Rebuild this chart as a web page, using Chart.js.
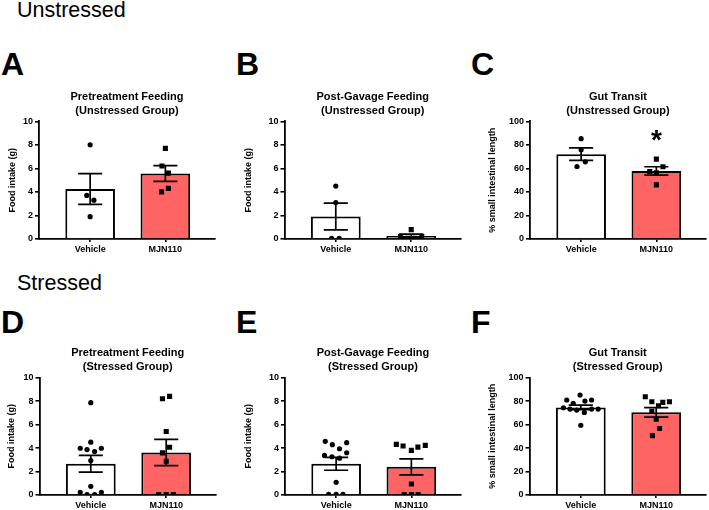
<!DOCTYPE html>
<html>
<head>
<meta charset="utf-8">
<script src="https://cdn.jsdelivr.net/npm/chart.js@4.4.0/dist/chart.umd.min.js"></script>
<style>
  body { margin: 0; background: #fff; }
  #fig { position: relative; width: 709px; height: 510px; overflow: hidden; font-family: "Liberation Sans", Arial, sans-serif; color: #000; }
  .head { position: absolute; font-size: 21.5px; line-height: 1; }
  .letter { position: absolute; font-size: 32px; font-weight: bold; line-height: 1; }
  canvas { position: absolute; }
</style>
</head>
<body>
<div id="fig">
  <div class="head" style="left:17px; top:0px;">Unstressed</div>
  <div class="head" style="left:17px; top:273px;">Stressed</div>
  <div class="letter" style="left:1px; top:48px;">A</div>
  <div class="letter" style="left:236px; top:48px;">B</div>
  <div class="letter" style="left:471px; top:48px;">C</div>
  <div class="letter" style="left:1px; top:306px;">D</div>
  <div class="letter" style="left:236px; top:306px;">E</div>
  <div class="letter" style="left:471px; top:306px;">F</div>
</div>
<script>
const groups = ['Vehicle', 'MJN110'];

// A - pretreatment feeding, unstressed
const preUnsMean = [4.25, 5.57];
const preUnsSem = [1.3, 0.67];
const preUnsVeh = [8.0, 3.7, 3.3, 1.9];
const preUnsVehJit = [0, -0.045, 0.05, 0];
const preUnsMjn = [7.7, 6.2, 5.6, 4.3, 4.0];
const preUnsMjnJit = [0, -0.045, 0.04, 0.04, -0.05];

// B - post-gavage feeding, unstressed
const postUnsMean = [1.91, 0.26];
const postUnsSem = [1.13, 0.15];
const postUnsVeh = [4.5, 3.1, 0.05, 0.05];
const postUnsVehJit = [0, 0, -0.055, 0.045];
const postUnsMjn = [0.8, 0.2, 0.05, 0.05, 0.2];
const postUnsMjnJit = [0, -0.14, -0.05, 0.05, 0.14];

// C - gut transit, unstressed
const gutUnsMean = [72.1, 57.8];
const gutUnsSem = [5.3, 3.6];
const gutUnsVeh = [85.2, 75.9, 61.6, 65.6];
const gutUnsVehJit = [0, 0, -0.055, 0.055];
const gutUnsMjn = [67.9, 61.4, 57.4, 56.3, 46.0];
const gutUnsMjnJit = [0, 0.088, -0.088, 0, 0];
const gutUnsStar = { x: 1, y: 90, text: '*' };

// D - pretreatment feeding, stressed
const preStrMean = [2.66, 3.62];
const preStrSem = [0.72, 1.12];
const preStrVeh = [7.86, 4.5, 3.98, 3.87, 3.7, 3.98, 2.93, 0.74, 0.22, 0.22, 0.03, 0.03];
const preStrVehJit = [0, 0, -0.14, -0.05, 0.05, 0.14, 0, 0, -0.14, 0.14, -0.05, 0.05];
const preStrMjn = [8.2, 8.4, 5.41, 4.07, 3.59, 2.88, 0.03, 0.03, 0.03];
const preStrMjnJit = [-0.05, 0.045, 0, 0.045, -0.05, 0, -0.1, 0, 0.095];

// E - post-gavage feeding, stressed
const postStrMean = [2.66, 2.4];
const postStrSem = [0.55, 0.68];
const postStrVeh = [4.57, 4.46, 4.29, 3.94, 3.6, 3.37, 3.26, 3.14, 1.08, 0.05, 0.05, 0.05];
const postStrVehJit = [-0.145, 0.14, -0.05, 0.045, 0.14, -0.155, -0.057, 0.045, 0, -0.1, 0, 0.09];
const postStrMjn = [4.31, 4.17, 3.8, 4.08, 4.23, 0.94, 0.03, 0.03, 0.03];
const postStrMjnJit = [-0.2, -0.11, 0, 0.087, 0.185, 0, -0.095, 0, 0.09];

// F - gut transit, stressed
const gutStrMean = [74.6, 70.4];
const gutStrSem = [1.9, 4.0];
const gutStrVeh = [85.2, 80.9, 80.0, 80.9, 78.0, 74.3, 73.2, 72.3, 70.3, 73.2, 73.2, 59.4];
const gutStrVehJit = [-0.01, -0.186, 0.055, 0.143, -0.1, -0.23, -0.143, -0.054, 0.047, 0.143, 0.23, 0];
const gutStrMjn = [83.7, 79.4, 76.0, 78.9, 79.4, 71.4, 64.6, 56.6, 50.6];
const gutStrMjnJit = [-0.145, -0.058, 0.03, 0.087, 0.175, -0.058, 0, 0.044, -0.05];

const FONT = '"Liberation Sans", Arial, sans-serif';

// mean +/- SEM whiskers, drawn right after the bars so the dots sit on top
const semBars = {
  id: 'semBars',
  afterDatasetDraw(chart, args, opts) {
    if (args.index !== 0) return;
    const { ctx, scales: { x, y } } = chart;
    ctx.save();
    ctx.strokeStyle = '#000';
    ctx.lineWidth = 1.7;
    opts.mean.forEach((m, i) => {
      const cx = x.getPixelForValue(i);
      const hw = x.getPixelForValue(i + 0.16) - cx;
      const top = y.getPixelForValue(m + opts.sem[i]);
      const bot = y.getPixelForValue(Math.max(0, m - opts.sem[i]));
      ctx.beginPath();
      ctx.moveTo(cx, top); ctx.lineTo(cx, bot);
      ctx.moveTo(cx - hw, top); ctx.lineTo(cx + hw, top);
      ctx.moveTo(cx - hw, bot); ctx.lineTo(cx + hw, bot);
      ctx.stroke();
    });
    ctx.restore();
  }
};

// two line panel title + optional significance star
const panelTitle = {
  id: 'panelTitle',
  afterDraw(chart, args, opts) {
    const { ctx, chartArea, scales: { x, y } } = chart;
    ctx.save();
    ctx.fillStyle = '#000';
    ctx.font = 'bold 11px ' + FONT;
    ctx.textAlign = 'center';
    ctx.textBaseline = 'middle';
    const cx = (chartArea.left + chartArea.right) / 2;
    opts.lines.forEach((t, i) => ctx.fillText(t, cx, chartArea.top - 24.5 + i * 14));
    if (opts.star) {
      ctx.font = 'bold 28px ' + FONT;
      ctx.textBaseline = 'alphabetic';
      ctx.fillText(opts.star.text, x.getPixelForValue(opts.star.x), y.getPixelForValue(opts.star.y) + 16);
    }
    ctx.restore();
  }
};

function points(vals, jit, i) {
  return vals.map((v, k) => ({ x: i + jit[k], y: v }));
}

function makePanel(p) {
  const canvasTop = Math.round(p.areaTop - 40);
  const padTop = p.areaTop - canvasTop;
  const canvasLeft = Math.round(p.titleX - 5.4);
  const yW = p.axisX - canvasLeft;
  const areaW = 177, padRight = 3, xH = 24;
  const cv = document.createElement('canvas');
  cv.width = Math.ceil(yW + areaW + padRight);
  cv.height = Math.ceil(padTop + p.areaH + xH);
  cv.style.left = canvasLeft + 'px';
  cv.style.top = canvasTop + 'px';
  document.getElementById('fig').appendChild(cv);
  const rightPad = cv.width - yW - areaW;

  new Chart(cv, {
    type: 'bar',
    data: {
      datasets: [
        {
          type: 'bar',
          data: p.mean.map((m, i) => ({ x: i, y: m })),
          backgroundColor: ['#ffffff', '#ff6464'],
          borderColor: '#000',
          borderWidth: 2,
          barPercentage: 0.66,
          categoryPercentage: 1,
          order: 2
        },
        {
          type: 'scatter',
          data: points(p.veh, p.vehJit, 0),
          pointStyle: 'circle',
          pointRadius: 2.6,
          backgroundColor: '#000',
          borderWidth: 0,
          order: 1
        },
        {
          type: 'scatter',
          data: points(p.mjn, p.mjnJit, 1),
          pointStyle: 'rect',
          pointRadius: 3.6,
          backgroundColor: '#000',
          borderWidth: 0,
          order: 1
        }
      ]
    },
    options: {
      responsive: false,
      animation: false,
      layout: { padding: { top: padTop, right: rightPad, left: 0, bottom: 0 } },
      scales: {
        x: {
          type: 'linear',
          bounds: 'data',
          offset: false,
          min: -0.68,
          max: 1.66,
          afterBuildTicks: (s) => { s.ticks = groups.map((g, i) => ({ value: i })); },
          afterFit: (s) => { s.height = xH; s.paddingLeft = 0; s.paddingRight = 0; },
          ticks: {
            callback: (v) => groups[v],
            autoSkip: false,
            maxRotation: 0,
            padding: 2,
            color: '#000',
            font: { family: FONT, size: 9, weight: 'bold' }
          },
          grid: { display: true, offset: false, drawOnChartArea: false, drawTicks: true, tickLength: 3, color: '#000', lineWidth: 1.6 },
          border: { display: true, color: '#000', width: 1.8 }
        },
        y: {
          min: 0,
          max: p.yMax,
          afterFit: (s) => { s.width = yW; s.paddingTop = 0; s.paddingBottom = 0; },
          ticks: {
            stepSize: p.yMax / 5,
            padding: 2,
            color: '#000',
            font: { family: FONT, size: 9, weight: 'bold' }
          },
          title: {
            display: true,
            text: p.yTitle,
            padding: 0,
            color: '#000',
            font: { family: FONT, size: 9, weight: 'bold' }
          },
          grid: { display: true, drawOnChartArea: false, drawTicks: true, tickLength: 4, color: '#000', lineWidth: 1.6 },
          border: { display: true, color: '#000', width: 1.8 }
        }
      },
      plugins: {
        legend: { display: false },
        tooltip: { enabled: false },
        semBars: { mean: p.mean, sem: p.sem },
        panelTitle: { lines: p.title, star: p.star }
      }
    },
    plugins: [semBars, panelTitle]
  });
}

const feedTitle = 'Food intake (g)';
const gutTitle = '% small intestinal length';

makePanel({ axisX: 39, areaTop: 121.3, areaH: 117.4, titleX: 12, yMax: 10, yTitle: feedTitle,
  title: ['Pretreatment Feeding', '(Unstressed Group)'], mean: preUnsMean, sem: preUnsSem,
  veh: preUnsVeh, vehJit: preUnsVehJit, mjn: preUnsMjn, mjnJit: preUnsMjnJit });
makePanel({ axisX: 284.5, areaTop: 121.3, areaH: 117.4, titleX: 248, yMax: 10, yTitle: feedTitle,
  title: ['Post-Gavage Feeding', '(Unstressed Group)'], mean: postUnsMean, sem: postUnsSem,
  veh: postUnsVeh, vehJit: postUnsVehJit, mjn: postUnsMjn, mjnJit: postUnsMjnJit });
makePanel({ axisX: 530, areaTop: 121.3, areaH: 117.4, titleX: 492.3, yMax: 100, yTitle: gutTitle,
  title: ['Gut Transit', '(Unstressed Group)'], mean: gutUnsMean, sem: gutUnsSem,
  veh: gutUnsVeh, vehJit: gutUnsVehJit, mjn: gutUnsMjn, mjnJit: gutUnsMjnJit, star: gutUnsStar });
makePanel({ axisX: 39.5, areaTop: 377.6, areaH: 116.7, titleX: 11.7, yMax: 10, yTitle: feedTitle,
  title: ['Pretreatment Feeding', '(Stressed Group)'], mean: preStrMean, sem: preStrSem,
  veh: preStrVeh, vehJit: preStrVehJit, mjn: preStrMjn, mjnJit: preStrMjnJit });
makePanel({ axisX: 285, areaTop: 377.6, areaH: 116.7, titleX: 248.3, yMax: 10, yTitle: feedTitle,
  title: ['Post-Gavage Feeding', '(Stressed Group)'], mean: postStrMean, sem: postStrSem,
  veh: postStrVeh, vehJit: postStrVehJit, mjn: postStrMjn, mjnJit: postStrMjnJit });
makePanel({ axisX: 529.5, areaTop: 377.6, areaH: 116.7, titleX: 492.7, yMax: 100, yTitle: gutTitle,
  title: ['Gut Transit', '(Stressed Group)'], mean: gutStrMean, sem: gutStrSem,
  veh: gutStrVeh, vehJit: gutStrVehJit, mjn: gutStrMjn, mjnJit: gutStrMjnJit });
</script>
</body>
</html>
